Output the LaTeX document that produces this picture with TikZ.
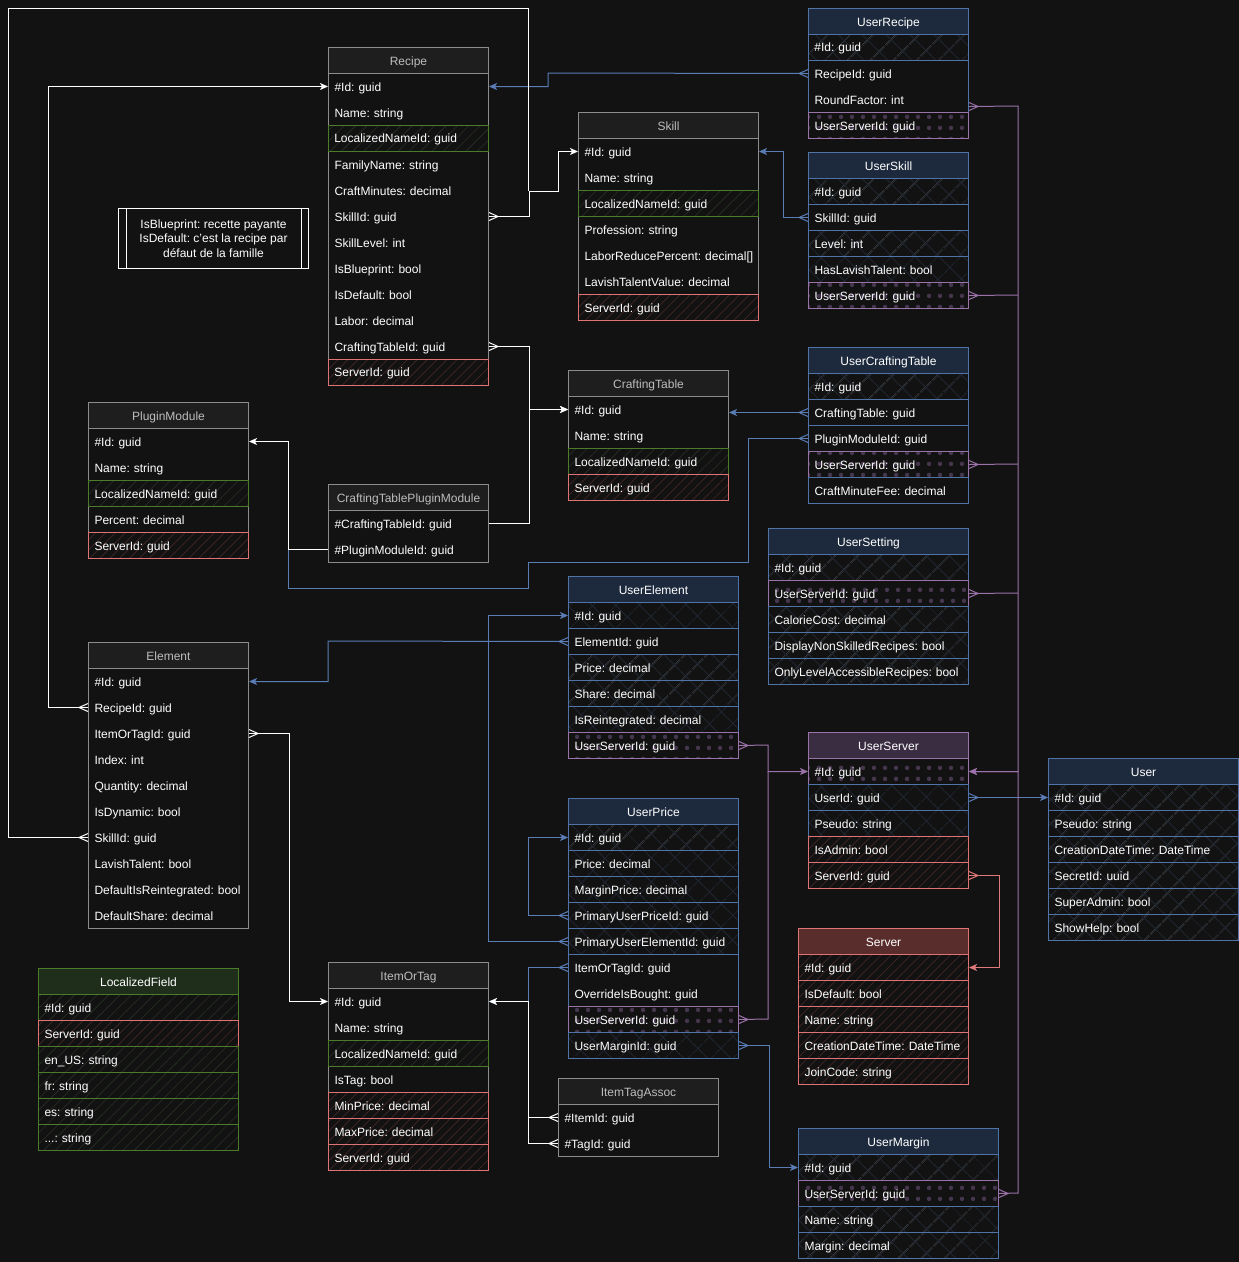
\documentclass[tikz,border=0pt]{standalone}
\usepackage{fontspec}
\setmainfont{Liberation Sans}
\usetikzlibrary{arrows.meta,patterns.meta}
\frenchspacing
\definecolor{bgc}{HTML}{121212}
\definecolor{grayb}{HTML}{8C8C8C}
\definecolor{grayh}{HTML}{1E1E1E}
\definecolor{grayt}{HTML}{BDBDBD}
\definecolor{blueb}{HTML}{5174A8}
\definecolor{blueh}{HTML}{1D2A3E}
\definecolor{bluep}{HTML}{222A36}
\definecolor{purb}{HTML}{9A73A8}
\definecolor{purh}{HTML}{3A2D42}
\definecolor{purp}{HTML}{45364D}
\definecolor{redb}{HTML}{E07474}
\definecolor{redh}{HTML}{5A2D2D}
\definecolor{redp}{HTML}{442626}
\definecolor{grnb}{HTML}{4A7C2A}
\definecolor{grnh}{HTML}{1F2E1B}
\definecolor{grnp}{HTML}{283224}
\definecolor{linb}{HTML}{5A7DB6}
\definecolor{linp}{HTML}{9B72A9}
\definecolor{linr}{HTML}{E07A7A}
\newcommand\threedots{...}
\tikzset{
  base/.style={font=\fontsize{12}{14}\selectfont, text height=9.5pt, text depth=0.5pt, inner ysep=0pt, minimum height=26pt, anchor=north west, line width=1pt},
  hdG/.style={base, draw=grayb, fill=grayh, text=grayt, inner xsep=0pt},
  hdB/.style={base, draw=blueb, fill=blueh, text=white, inner xsep=0pt},
  hdU/.style={base, draw=purb, fill=purh, text=white, inner xsep=0pt},
  hdR/.style={base, draw=redb, fill=redh, text=white, inner xsep=0pt},
  hdE/.style={base, draw=grnb, fill=grnh, text=white, inner xsep=0pt},
  brdG/.style={draw=grayb, line width=1pt},
  brdB/.style={draw=blueb, line width=1pt},
  brdU/.style={draw=purb, line width=1pt},
  brdR/.style={draw=redb, line width=1pt},
  brdE/.style={draw=grnb, line width=1pt},
  rowb/.style={base, inner xsep=6pt, align=left, text=white},
  Rn/.style={rowb},
  Rp/.style={rowb},
  Rb/.style={rowb, draw=blueb},
  Rx/.style={rowb, draw=blueb, pattern={Hatch[angle=45,distance=17pt,line width=0.9pt]}, pattern color=bluep},
  Rr/.style={rowb, draw=redb, pattern={Lines[angle=45,distance=7pt,line width=0.7pt]}, pattern color=redp},
  Rg/.style={rowb, draw=grnb, pattern={Lines[angle=45,distance=8pt,line width=0.6pt]}, pattern color=grnp},
  Ru/.style={rowb, draw=purb, pattern={Dots[distance=10.5pt,radius=2.3pt]}, pattern color=purp},
  wl/.style={color=white, line width=1pt},
  bl/.style={color=linb, line width=1pt},
  purl/.style={color=linp, line width=1pt},
  rl/.style={color=linr, line width=1pt},
  tip/.style={-{Stealth[length=8pt,width=7pt,inset=2pt]}},
  cfE/.pic={\draw[line width=1pt] (0,-4) -- (9,0) -- (0,4);},
  cfW/.pic={\draw[line width=1pt] (0,-4) -- (-9,0) -- (0,4);},
}
% #1 id, #2 x, #3 y, #4 width, #5 kind, #6 title, #7 number of rows, #8 rows
\newcommand\ent[8]{%
  \pgfmathsetmacro\entTW{#4-12}%
  \draw[brd#5] (#2,#3) rectangle ++(#4,{26*(#7+1)});
  \node[hd#5, minimum width=#4pt] (#1) at (#2,#3) {#6};
  \foreach \rs/\rn/\rt [count=\ri] in {#8} {
    \node[\rs, minimum width=#4pt, text width=\entTW pt] (#1-\rn) at (#2,{#3+26*\ri}) {\mbox{\rt}};
  }
}
\begin{document}
\begin{tikzpicture}[x=1pt,y=-1pt]
\useasboundingbox (0,0) rectangle (1239,1262);
\fill[bgc] (0,0) rectangle (1239,1262);

% ---------- entities ----------
\ent{rc}{328}{47}{160}{G}{Recipe}{12}{Rn/id/\#Id: guid, Rn/name/Name: string, Rg/lname/LocalizedNameId: guid, Rn/fam/FamilyName: string, Rn/cm/CraftMinutes: decimal, Rn/skill/SkillId: guid, Rn/sl/SkillLevel: int, Rn/bp/IsBlueprint: bool, Rn/def/IsDefault: bool, Rn/labor/Labor: decimal, Rn/ct/CraftingTableId: guid, Rr/srv/ServerId: guid}

\ent{sk}{578}{112}{180}{G}{Skill}{7}{Rn/id/\#Id: guid, Rn/name/Name: string, Rg/lname/LocalizedNameId: guid, Rn/prof/Profession: string, Rn/lrp/LaborReducePercent: decimal[], Rn/ltv/LavishTalentValue: decimal, Rr/srv/ServerId: guid}

\ent{ct}{568}{370}{160}{G}{CraftingTable}{4}{Rn/id/\#Id: guid, Rn/name/Name: string, Rg/lname/LocalizedNameId: guid, Rr/srv/ServerId: guid}

\ent{pm}{88}{402}{160}{G}{PluginModule}{5}{Rn/id/\#Id: guid, Rn/name/Name: string, Rg/lname/LocalizedNameId: guid, Rn/pct/Percent: decimal, Rr/srv/ServerId: guid}

\ent{ctpm}{328}{484}{160}{G}{CraftingTablePluginModule}{2}{Rn/ct/\#CraftingTableId: guid, Rn/pm/\#PluginModuleId: guid}

\ent{el}{88}{642}{160}{G}{Element}{10}{Rn/id/\#Id: guid, Rn/recipe/RecipeId: guid, Rn/iot/ItemOrTagId: guid, Rn/idx/Index: int, Rn/qty/Quantity: decimal, Rn/dyn/IsDynamic: bool, Rn/skill/SkillId: guid, Rn/lt/LavishTalent: bool, Rn/dir/DefaultIsReintegrated: bool, Rn/ds/DefaultShare: decimal}

\ent{lf}{38}{968}{200}{E}{LocalizedField}{6}{Rg/id/\#Id: guid, Rr/srv/ServerId: guid, Rg/en/en\_US: string, Rg/fr/fr: string, Rg/es/es: string, Rg/etc/\threedots: string}

\ent{iot}{328}{962}{160}{G}{ItemOrTag}{7}{Rn/id/\#Id: guid, Rn/name/Name: string, Rg/lname/LocalizedNameId: guid, Rn/tag/IsTag: bool, Rr/min/MinPrice: decimal, Rr/max/MaxPrice: decimal, Rr/srv/ServerId: guid}

\ent{ita}{558}{1078}{160}{G}{ItemTagAssoc}{2}{Rn/item/\#ItemId: guid, Rn/tag/\#TagId: guid}

\ent{ur}{808}{8}{160}{B}{UserRecipe}{4}{Rx/id/\#Id: guid, Rp/rid/RecipeId: guid, Rp/rf/RoundFactor: int, Ru/us/UserServerId: guid}

\ent{us}{808}{152}{160}{B}{UserSkill}{5}{Rx/id/\#Id: guid, Rb/skill/SkillId: guid, Rx/lvl/Level: int, Rx/hlt/HasLavishTalent: bool, Ru/us/UserServerId: guid}

\ent{uct}{808}{347}{160}{B}{UserCraftingTable}{5}{Rx/id/\#Id: guid, Rb/ct/CraftingTable: guid, Rb/pm/PluginModuleId: guid, Ru/us/UserServerId: guid, Rb/fee/CraftMinuteFee: decimal}

\ent{ust}{768}{528}{200}{B}{UserSetting}{5}{Rx/id/\#Id: guid, Ru/us/UserServerId: guid, Rx/cc/CalorieCost: decimal, Rx/dns/DisplayNonSkilledRecipes: bool, Rx/ola/OnlyLevelAccessibleRecipes: bool}

\ent{ue}{568}{576}{170}{B}{UserElement}{6}{Rx/id/\#Id: guid, Rb/el/ElementId: guid, Rx/price/Price: decimal, Rx/share/Share: decimal, Rx/reint/IsReintegrated: decimal, Ru/us/UserServerId: guid}

\ent{up}{568}{798}{170}{B}{UserPrice}{9}{Rx/id/\#Id: guid, Rx/price/Price: decimal, Rx/mp/MarginPrice: decimal, Rx/pup/PrimaryUserPriceId: guid, Rx/pue/PrimaryUserElementId: guid, Rp/iot/ItemOrTagId: guid, Rp/oib/OverrideIsBought: guid, Ru/us/UserServerId: guid, Rx/um/UserMarginId: guid}

\ent{usv}{808}{732}{160}{U}{UserServer}{5}{Ru/id/\#Id: guid, Rx/uid/UserId: guid, Rx/ps/Pseudo: string, Rr/adm/IsAdmin: bool, Rr/sid/ServerId: guid}

\ent{u}{1048}{758}{190}{B}{User}{6}{Rx/id/\#Id: guid, Rx/ps/Pseudo: string, Rx/cdt/CreationDateTime: DateTime, Rx/sec/SecretId: uuid, Rx/sa/SuperAdmin: bool, Rx/sh/ShowHelp: bool}

\ent{srv}{798}{928}{170}{R}{Server}{5}{Rr/id/\#Id: guid, Rr/def/IsDefault: bool, Rr/name/Name: string, Rr/cdt/CreationDateTime: DateTime, Rr/jc/JoinCode: string}

\ent{um}{798}{1128}{200}{B}{UserMargin}{4}{Rx/id/\#Id: guid, Ru/us/UserServerId: guid, Rx/name/Name: string, Rx/margin/Margin: decimal}

% ---------- note ----------
\node[draw=white, line width=1pt, minimum width=190pt, minimum height=60pt, anchor=north west, inner sep=0pt, align=center, text=white, font=\fontsize{12}{14.5}\selectfont] (note) at (118,208) {IsBlueprint: recette payante\\IsDefault: c'est la recipe par\\défaut de la famille};
\draw[white, line width=1pt] ([xshift=8pt]note.north west) -- ([xshift=8pt]note.south west);
\draw[white, line width=1pt] ([xshift=-8pt]note.north east) -- ([xshift=-8pt]note.south east);

% ---------- blue connectors ----------
\draw[bl,tip] (ur-rid.west) -- (548,73) |- (rc-id.east);
\draw[bl,tip] (us-skill.west) -- ++(-25,0) |- (sk-id.east);
\draw[bl,tip] (uct-ct.west) -- (uct-ct.west -| ct-id.east);
\draw[bl] (uct-pm.west) -| (748,562) -| (528,588) -| (288,549);
\draw[bl,tip] (ue-el.west) -- (328,641) |- (el-id.east);
\draw[bl,tip] (up-pue.west) -- ++(-80,0) |- (ue-id.west);
\draw[bl,tip] (up-pup.west) -- ++(-40,0) |- (up-id.west);
\draw[bl,tip] (up-iot.west) -- ++(-40,0) |- (iot-id.east);
\draw[bl,tip] (up-um.east) -- ++(30,0) |- (um-id.west);
\draw[bl,tip] (usv-uid.east) -- (u-id.west);

% ---------- white connectors ----------
\draw[wl,tip] (rc-skill.east) -- ++(40,0) |- (558,191) |- (sk-id.west);
\draw[wl] (el-skill.west) -| (8,8) -| (528,191);
\draw[wl,tip] (rc-ct.east) -- ++(40,0) |- (ct-id.west);
\draw[wl,tip] (ctpm-ct.east) -- ++(40,0) |- (ct-id.west);
\draw[wl,tip] (ctpm-pm.west) -- ++(-40,0) |- (pm-id.east);
\draw[wl,tip] (el-recipe.west) -- ++(-40,0) |- (rc-id.west);
\draw[wl,tip] (el-iot.east) -- ++(40,0) |- (iot-id.west);
\draw[wl,tip] (ita-item.west) -- ++(-30,0) |- (iot-id.east);
\draw[wl] (ita-tag.west) -- ++(-30,0) -- ++(0,-26);

% ---------- purple connectors ----------
\draw[purl,tip] ([yshift=-7pt]ur-rf.east) -- (1018,106) |- (usv-id.east);
\draw[purl] (us-us.east) -- (1018,295);
\draw[purl] (uct-us.east) -- (1018,464);
\draw[purl] (ust-us.east) -- (1018,593);
\draw[purl,tip] (um-us.east) -- (1018,1193) |- (usv-id.east);
\draw[purl,tip] (ue-us.east) -- (768,745) |- (usv-id.west);
\draw[purl] (up-us.east) -- (768,1019) -- (768,771);

% ---------- red connector ----------
\draw[rl,tip] (usv-sid.east) -- ++(30,0) |- (srv-id.east);

% ---------- crow's feet ----------
\foreach \a in {rc-skill.east, rc-ct.east, el-iot.east} \pic[color=white] at (\a) {cfE};
\foreach \a in {el-skill.west, el-recipe.west, ita-item.west, ita-tag.west} \pic[color=white] at (\a) {cfW};
\foreach \a in {ur-rid.west, us-skill.west, uct-ct.west, uct-pm.west, ue-el.west, up-pue.west, up-pup.west, up-iot.west} \pic[color=linb] at (\a) {cfW};
\foreach \a in {up-um.east, usv-uid.east} \pic[color=linb] at (\a) {cfE};
\foreach \a in {us-us.east, uct-us.east, ust-us.east, um-us.east, ue-us.east, up-us.east} \pic[color=linp] at (\a) {cfE};
\pic[color=linp] at ([yshift=-7pt]ur-rf.east) {cfE};
\pic[color=linr] at (usv-sid.east) {cfE};
\end{tikzpicture}
\end{document}
